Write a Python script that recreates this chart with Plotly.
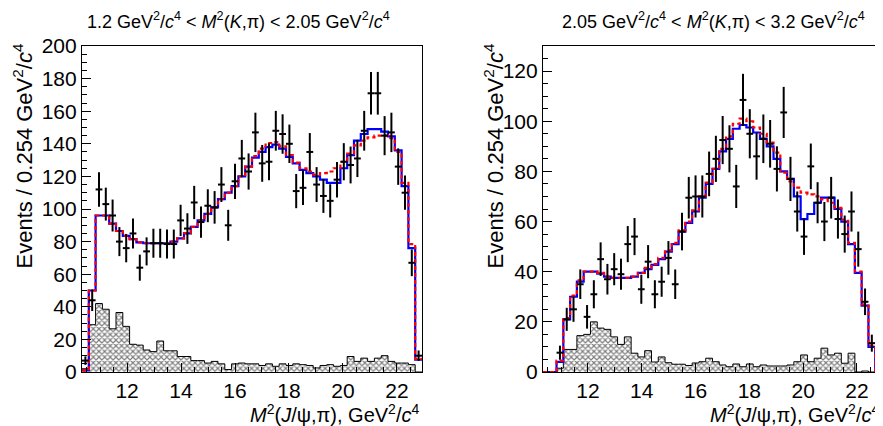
import numpy as np
import plotly.graph_objects as go

# x axis: M^2(J/psi,pi) range shown, 50 bins
X_LO, X_HI, NBINS = 10.33, 22.93, 50

# ---- left panel: 1.2 < M^2(K,pi) < 2.05 ----
left_data = [7, 44, 112, 103, 96, 80, 76, 85, 64, 74,
             79, 79, 78.5, 78.5, 93, 88, 104, 92, 102, 101,
             115, 90, 117, 131, 123, 147, 128, 129, 148, 146,
             140, 111, 113, 135, 115, 108, 105, 118, 129, 127,
             131, 148, 171, 171, 145, 147, 126, 110, 67, 10]
left_err = [2.6, 6.6, 10.6, 10.1, 9.8, 8.9, 8.7, 9.2, 8.0, 8.6,
            8.9, 8.9, 8.9, 8.9, 9.6, 9.4, 10.2, 9.6, 10.1, 10.0,
            10.7, 9.5, 10.8, 11.4, 11.1, 12.1, 11.3, 11.4, 12.2, 12.1,
            11.8, 10.5, 10.6, 11.6, 10.7, 10.4, 10.2, 10.9, 11.4, 11.3,
            11.4, 12.2, 13.1, 13.1, 12.0, 12.1, 11.2, 10.5, 8.2, 3.2]
left_fit = [1, 50, 96, 96, 91, 86.5, 83.5, 81.5, 79.5, 79,
            79, 79, 79, 80, 82, 85, 89, 93, 97, 101,
            106, 110, 114, 120, 126, 131.5, 135, 138, 139.5, 137,
            132, 128, 124, 122, 120, 118, 116, 116, 125, 133,
            142, 146, 149, 149, 147.5, 144.5, 136, 114, 76, 7.5]
left_alt = [1, 50, 96, 96, 91, 86.5, 83.5, 81.5, 79.5, 79,
            79, 79, 79, 80, 82, 85, 89, 93, 97, 101,
            106, 110, 114, 120, 126, 132.5, 137, 140.5, 141, 138.5,
            133, 128.5, 125, 123, 121, 122, 123, 125, 129, 134,
            139, 142, 144, 145, 145, 143.5, 135, 116, 78.5, 8]
left_bkg = [2, 29, 42, 38.5, 26.5, 36.5, 28, 17, 16.5, 13.5,
            12.5, 19, 13, 13, 9.5, 9.5, 7, 7, 5.5, 6.5,
            5, 1.5, 5, 5.5, 5, 5, 4, 5, 3.5, 5,
            4, 5, 4.5, 4, 2.5, 4, 4.5, 3.5, 4, 9.5,
            6.5, 8.5, 6.5, 8.5, 10, 6.5, 5.5, 5.5, 4.5, 0]

# ---- right panel: 2.05 < M^2(K,pi) < 3.2 ----
right_data = [None, None, 7.7, 21, 25, 35, 22, 31, 45, 37,
              41, 39, 51, 54, 33, 44, 31, 36, 45.5, 35,
              56, 69.5, 70, 70, 79, 85, 92.5, 89, 74, 108.5,
              95, 86, 93, 91, 81, 103.5, 77, 64, 54, 82,
              67.5, 60, 69.5, 61, 55, 64, 49, 28, 11.5, None]
right_err = [None, None, 2.8, 4.6, 5.0, 5.9, 4.7, 5.6, 6.7, 6.1,
             6.4, 6.2, 7.2, 7.4, 5.8, 6.6, 5.6, 6.0, 6.7, 5.9,
             7.5, 8.3, 8.4, 8.4, 8.9, 9.2, 9.6, 9.4, 8.6, 10.4,
             9.8, 9.3, 9.7, 9.5, 9.0, 10.2, 8.8, 8.0, 7.3, 9.1,
             8.2, 7.8, 8.3, 7.8, 7.4, 8.0, 7.0, 5.3, 3.4, None]
right_fit = [0, 0, 4, 21, 30, 36, 40, 40, 39.2, 38,
             37.5, 37.5, 37.5, 38, 39.5, 41, 42.7, 45, 48, 51,
             56, 59.5, 64, 69.5, 75, 81, 88, 93, 97, 98.5,
             97.5, 95.5, 93, 90, 85, 80, 77, 70, 61, 63,
             67.5, 69.5, 69.5, 65, 60, 51, 39.5, 26.5, 10, 0]
right_alt = [0, 0, 4.5, 21.5, 30.5, 36.5, 40, 40, 39.5, 38,
             37.5, 37.5, 37.5, 38, 39.5, 41.5, 43, 45.5, 48.5, 51.5,
             56.5, 60, 64.5, 70, 75.5, 81, 89, 94, 99, 101,
             100, 97.5, 95, 91.5, 87.5, 79.5, 76, 73.5, 71.5, 70.8,
             70, 68.8, 67.5, 65.5, 60.8, 51.5, 40, 27, 10.5, 0]
right_bkg = [0, 0, 1.5, 9, 9, 14.5, 15, 20, 17.5, 17,
             14, 11, 14, 7.5, 6, 8.5, 4, 6, 3.7, 3.1,
             3.1, 2.6, 3.6, 4.1, 5.5, 4.1, 2.8, 2.1, 3.2, 2.1,
             3.2, 2.1, 2.8, 2.4, 2.4, 2.4, 2.8, 4.1, 6.8, 4.1,
             5.5, 9.5, 6.8, 7.5, 3.5, 7.5, 0, 0.4, 0, 0]

edges = np.linspace(X_LO, X_HI, NBINS + 1)
centers = 0.5 * (edges[:-1] + edges[1:])
bw = edges[1] - edges[0]

# the page body adds an 8px margin, so the figure is 8px smaller and
# all pixel positions below are page positions minus 8
OFF = 8
W, H = 883 - OFF, 426 - OFF
FONT = "Liberation Sans, Arial, Helvetica, sans-serif"

fig = go.Figure()


def add_panel(data, err, fit, alt, bkg, xa, ya):
    xs = list(edges)
    # hatched background
    fig.add_trace(go.Scatter(
        x=xs, y=list(bkg) + [bkg[-1]], mode="lines", line_shape="hv",
        line=dict(color="black", width=1), fill="tozeroy",
        fillcolor="white",
        fillpattern=dict(shape="x", fgcolor="black", bgcolor="white",
                         size=4, solidity=0.5),
        xaxis=xa, yaxis=ya, showlegend=False, hoverinfo="skip"))
    # full fit (blue solid)
    fig.add_trace(go.Scatter(
        x=xs, y=list(fit) + [fit[-1]], mode="lines", line_shape="hv",
        line=dict(color="#0000ff", width=2.2),
        xaxis=xa, yaxis=ya, showlegend=False))
    # alternative fit (red dashed)
    fig.add_trace(go.Scatter(
        x=xs, y=list(alt) + [alt[-1]], mode="lines", line_shape="hv",
        line=dict(color="#ff0000", width=2.2, dash="4px,3px"),
        xaxis=xa, yaxis=ya, showlegend=False))
    # data points
    px = [c for c, d in zip(centers, data) if d is not None]
    py = [d for d in data if d is not None]
    pe = [e for e in err if e is not None]
    fig.add_trace(go.Scatter(
        x=px, y=py, mode="markers", marker=dict(size=1, color="black"),
        error_y=dict(type="data", array=pe, width=0, thickness=2, color="black"),
        error_x=dict(type="constant", value=bw / 2, width=0, thickness=2, color="black"),
        xaxis=xa, yaxis=ya, showlegend=False))


add_panel(left_data, left_err, left_fit, left_alt, left_bkg, "x", "y")
add_panel(right_data, right_err, right_fit, right_alt, right_bkg, "x2", "y2")

# panel frames (page pixels)
LX0, LX1, RX0, RX1 = 82 - OFF, 422 - OFF, 543 - OFF, 882 - OFF
YT, YB = 46 - OFF, 372 - OFF

axis_common = dict(showgrid=False, zeroline=False, showline=True, linecolor="black",
                   linewidth=1.2, mirror=True, ticks="inside", ticklen=9,
                   tickwidth=1, tickcolor="black", automargin=False,
                   tickfont=dict(family=FONT, size=21, color="black"))

xcommon = dict(axis_common, range=[X_LO, X_HI], tick0=12, dtick=2,
               minor=dict(ticks="inside", ticklen=5, dtick=0.5, tickcolor="black"))

fig.update_layout(
    width=W, height=H,
    margin=dict(l=0, r=0, t=0, b=0, autoexpand=False),
    paper_bgcolor="white", plot_bgcolor="white",
    xaxis=dict(xcommon, domain=[LX0 / W, LX1 / W], anchor="y"),
    yaxis=dict(axis_common, domain=[1 - YB / H, 1 - YT / H], range=[0, 200],
               dtick=20, anchor="x",
               minor=dict(ticks="inside", ticklen=5, dtick=5, tickcolor="black")),
    xaxis2=dict(xcommon, domain=[RX0 / W, RX1 / W], anchor="y2"),
    yaxis2=dict(axis_common, domain=[1 - YB / H, 1 - YT / H], range=[0, 130],
                dtick=20, anchor="x2",
                minor=dict(ticks="inside", ticklen=5, dtick=5, tickcolor="black")),
)

gev = "GeV<sup>2</sup>/<i>c</i><sup>4</sup>"
titles = [
    (238, "1.2 " + gev + " &lt; <i>M</i><sup>2</sup>(<i>K</i>,π) &lt; 2.05 " + gev),
    (713, "2.05 " + gev + " &lt; <i>M</i><sup>2</sup>(<i>K</i>,π) &lt; 3.2 " + gev),
]
for cx, t in titles:
    fig.add_annotation(x=(cx - OFF) / W, y=1 - (21 - OFF) / H, xref="paper", yref="paper",
                       text=t, showarrow=False, xanchor="center", yanchor="middle",
                       font=dict(family=FONT, size=18, color="black"))

xtitle = "<i>M</i><sup>2</sup>(<i>J</i>/ψ,π), " + gev
for rx in (421, 881):
    fig.add_annotation(x=(rx - OFF) / W, y=1 - (413 - OFF) / H, xref="paper", yref="paper",
                       text=xtitle, showarrow=False, xanchor="right", yanchor="middle",
                       font=dict(family=FONT, size=20, color="black"))

ytitle = "Events / 0.254 " + gev
for cx in (22, 493):
    fig.add_annotation(x=(cx - OFF) / W, y=1 - (42 - OFF) / H, xref="paper", yref="paper",
                       text=ytitle, showarrow=False, textangle=-90,
                       xanchor="center", yanchor="top",
                       font=dict(family=FONT, size=22, color="black"))

fig.write_html("out.html")
